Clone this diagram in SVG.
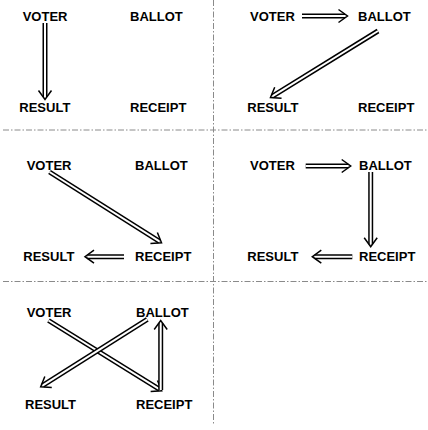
<svg xmlns="http://www.w3.org/2000/svg" width="428" height="430" viewBox="0 0 428 430">
<style>
text{font-family:"Liberation Sans",Arial,sans-serif;font-weight:bold;font-size:13px;fill:#000}
.div{stroke:#8a8a8a;stroke-width:1;stroke-dasharray:6 2 1.5 2;fill:none}
.o{stroke:#000;stroke-width:5;fill:none}
.i{stroke:#fff;stroke-width:2;fill:none;marker-end:url(#h)}
</style>
<defs>
<marker id="h" markerUnits="userSpaceOnUse" orient="auto" viewBox="-10 -10 20 20" markerWidth="20" markerHeight="20" refX="0" refY="0" overflow="visible">
<path d="M -6.5,-6.5 L 2.5,0 L -6.5,6.5" fill="none" stroke="#000" stroke-width="1.5" stroke-linejoin="miter"/>
</marker>
</defs>
<rect width="428" height="430" fill="#fff"/>
<g id="dividers">
<line class="div" x1="3" y1="130" x2="428" y2="130"/>
<line class="div" x1="3" y1="281.5" x2="428" y2="281.5"/>
<line class="div" x1="213.5" y1="0" x2="213.5" y2="424"/>
</g>
<g id="p1-voter"><text x="22.7" y="20.5">VOTER</text></g>
<g id="p1-ballot"><text x="130" y="20.5">BALLOT</text></g>
<g id="p1-result"><text x="19.3" y="112">RESULT</text></g>
<g id="p1-receipt"><text x="130" y="112">RECEIPT</text></g>
<g id="p2-voter"><text x="250" y="20.5">VOTER</text></g>
<g id="p2-ballot"><text x="358" y="20.5">BALLOT</text></g>
<g id="p2-result"><text x="247.3" y="112">RESULT</text></g>
<g id="p2-receipt"><text x="358" y="112">RECEIPT</text></g>
<g id="p3-voter"><text x="26.7" y="169.5">VOTER</text></g>
<g id="p3-ballot"><text x="135" y="169.5">BALLOT</text></g>
<g id="p3-result"><text x="23.3" y="260.5">RESULT</text></g>
<g id="p3-receipt"><text x="135" y="260.5">RECEIPT</text></g>
<g id="p4-voter"><text x="250" y="169.5">VOTER</text></g>
<g id="p4-ballot"><text x="359" y="169.5">BALLOT</text></g>
<g id="p4-result"><text x="247.3" y="260.5">RESULT</text></g>
<g id="p4-receipt"><text x="359" y="260.5">RECEIPT</text></g>
<g id="p5-voter"><text x="26.7" y="317">VOTER</text></g>
<g id="p5-ballot"><text x="136" y="317">BALLOT</text></g>
<g id="p5-result"><text x="25" y="408.5">RESULT</text></g>
<g id="p5-receipt"><text x="136" y="408.5">RECEIPT</text></g>
<g id="connectors">
<path class="o" d="M45,23 L45,97"/><path class="i" d="M45,23 L45,97"/>
<path class="o" d="M302,16 L345,16"/><path class="i" d="M302,16 L345,16"/>
<path class="o" d="M378,31 L272.6,96.2"/><path class="i" d="M378,31 L272.6,96.2"/>
<path class="o" d="M49.5,172 L159.4,241.4"/><path class="i" d="M49.5,172 L159.4,241.4"/>
<path class="o" d="M124,256.7 L87.5,256.7"/><path class="i" d="M124,256.7 L87.5,256.7"/>
<path class="o" d="M305.7,166 L348.2,166"/><path class="i" d="M305.7,166 L348.2,166"/>
<path class="o" d="M370.7,172 L370.7,244.2"/><path class="i" d="M370.7,172 L370.7,244.2"/>
<path class="o" d="M352.3,256.7 L314.8,256.7"/><path class="i" d="M352.3,256.7 L314.8,256.7"/>
<path class="o" d="M48.5,320.5 L159.6,389.4"/><path class="i" d="M48.5,320.5 L159.6,389.4"/>
<path class="o" d="M147.3,319.3 L42.8,385.4"/><path class="i" d="M147.3,319.3 L42.8,385.4"/>
<path class="o" d="M160.7,390 L160.7,323"/><path class="i" d="M160.7,390 L160.7,323"/>
</g>
</svg>
